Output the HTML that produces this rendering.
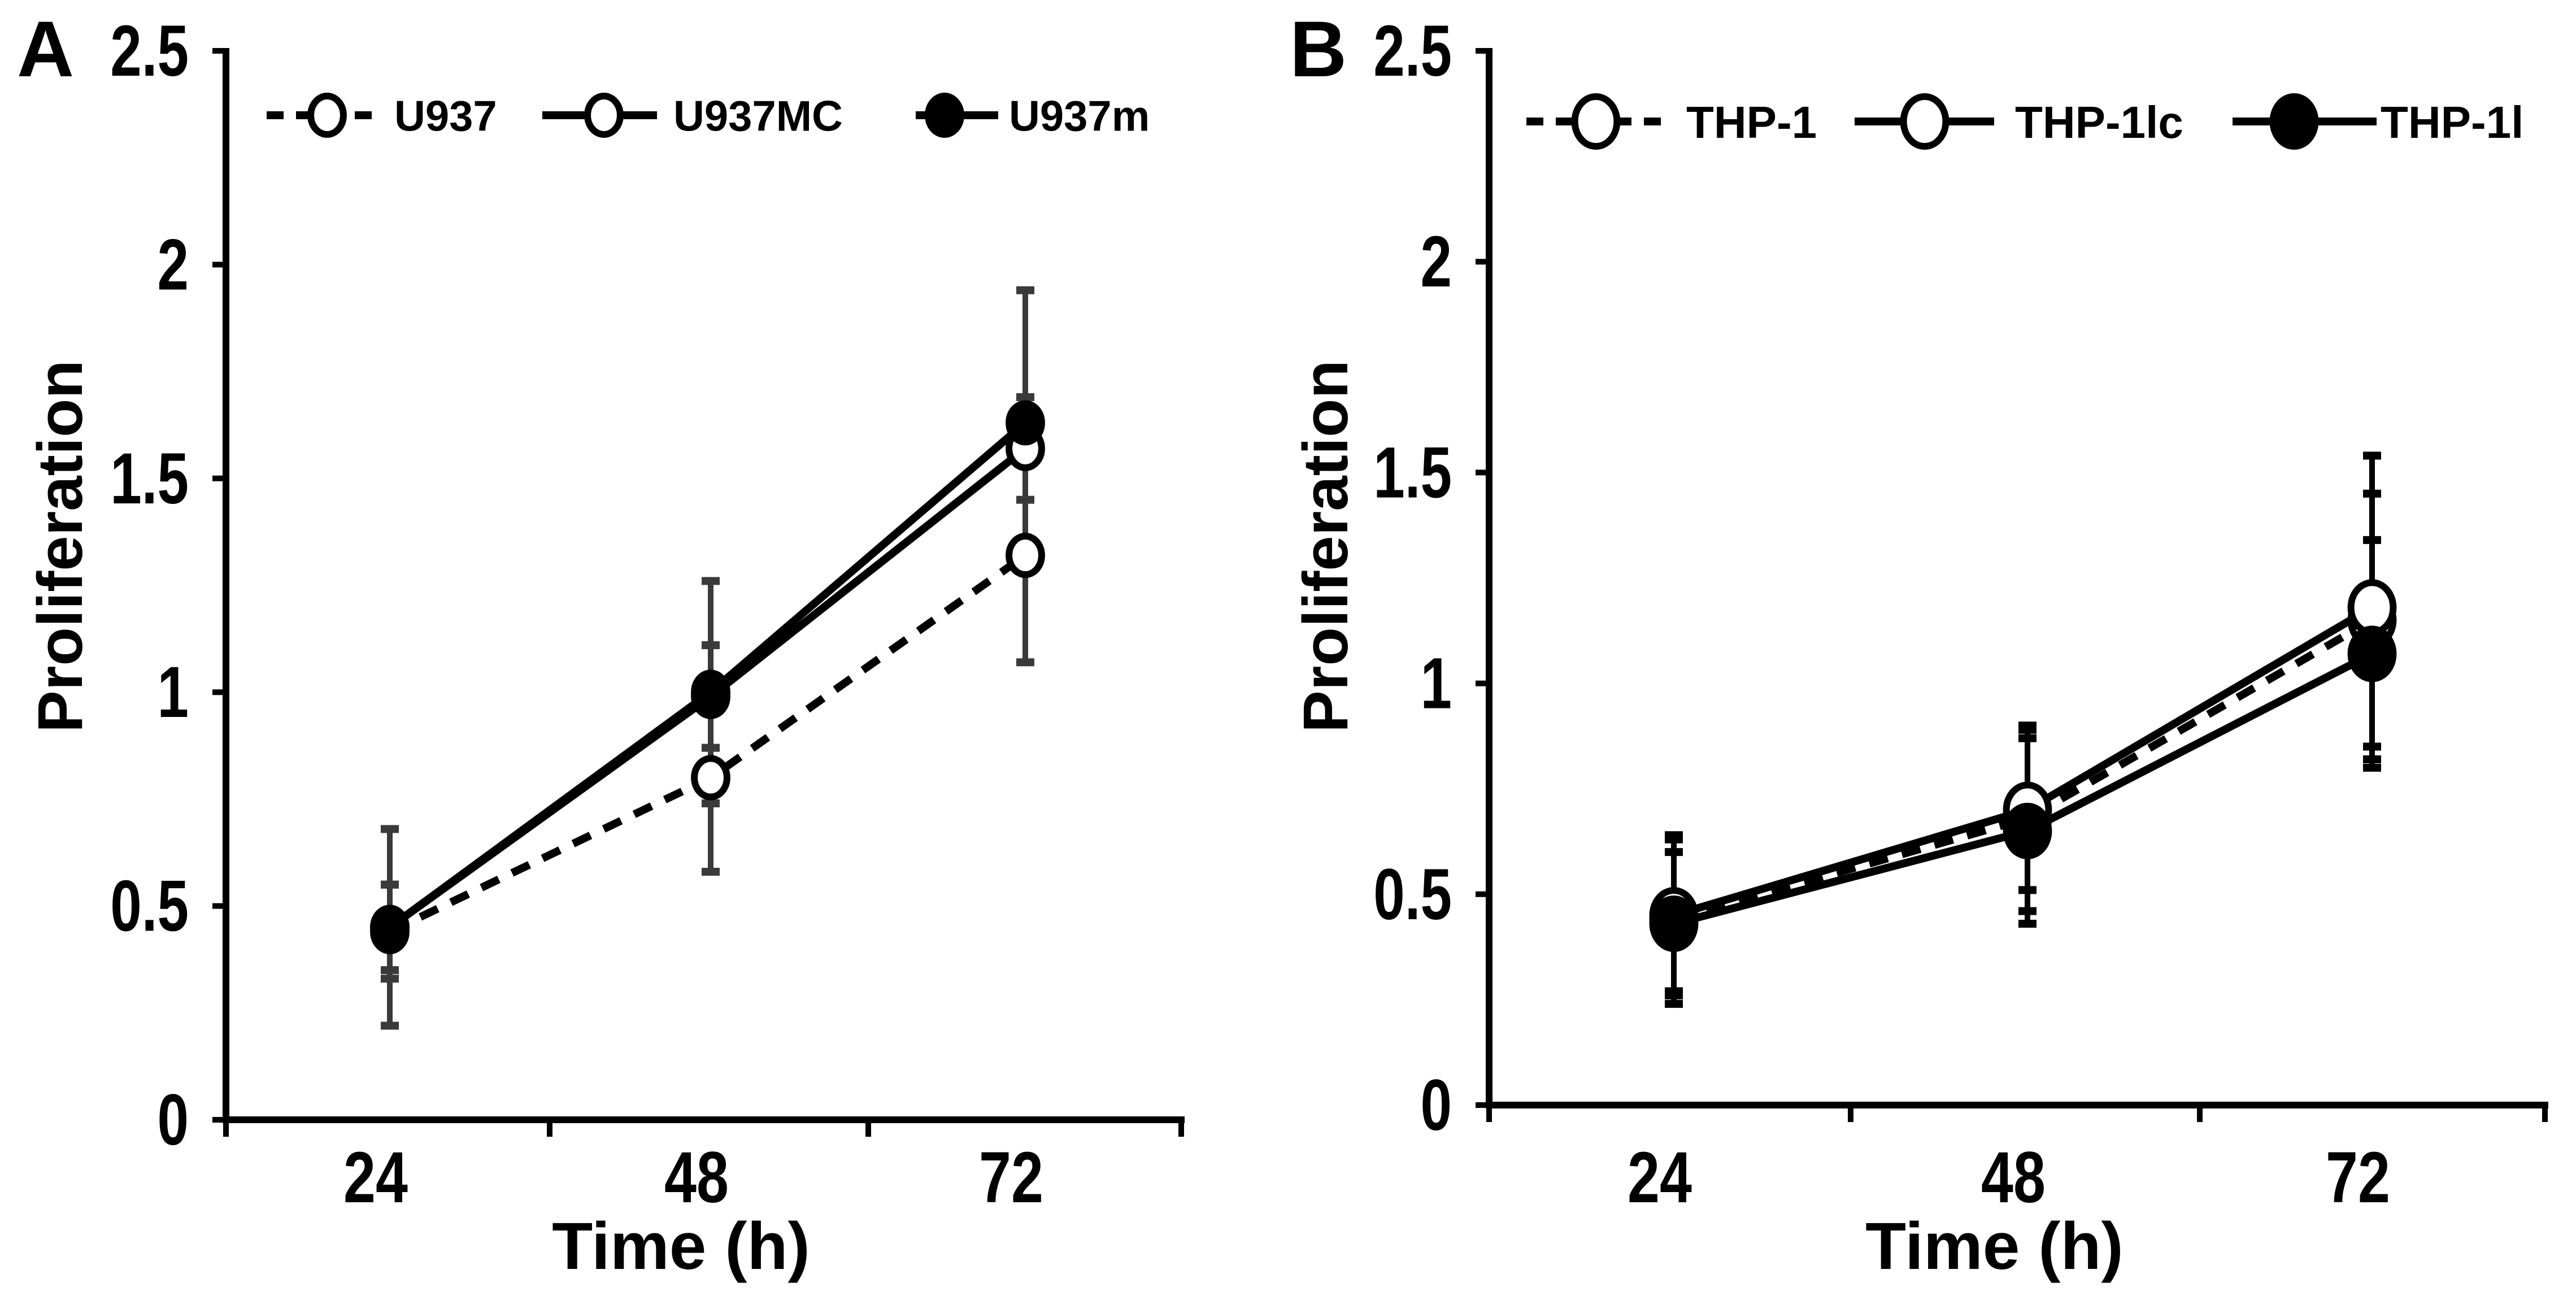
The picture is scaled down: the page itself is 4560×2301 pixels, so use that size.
<!DOCTYPE html>
<html><head><meta charset="utf-8"><style>
html,body{margin:0;padding:0;background:#fff}
svg{display:block}
text{font-family:"Liberation Sans Narrow","Liberation Sans",sans-serif;font-weight:bold;fill:#000}
.wide{font-family:"Liberation Sans",sans-serif}
</style></head><body>
<svg id="chart" width="4560" height="2301" viewBox="0 0 4560 2301" xmlns="http://www.w3.org/2000/svg"></svg>
<script>
const categories = ["24","48","72"];
const yTicks = [0,0.5,1,1.5,2,2.5];
const yTickLabels = ["0","0.5","1","1.5","2","2.5"];
const seriesNamesA = ["U937","U937MC","U937m"];
const u937 = [0.44,0.80,1.32];
const u937Err = [0.11,0.22,0.25];
const u937mc = [0.45,0.99,1.57];
const u937mcErr = [0.10,0.12,0.12];
const u937m = [0.45,1.00,1.63];
const u937mErr = [0.23,0.26,0.31];
const seriesNamesB = ["THP-1","THP-1lc","THP-1l"];
const thp1 = [0.44,0.68,1.15];
const thp1Err = [0.20,0.22,0.30];
const thp1lc = [0.45,0.70,1.18];
const thp1lcErr = [0.18,0.19,0.36];
const thp1l = [0.43,0.65,1.07];
const thp1lErr = [0.17,0.22,0.27];

const NS="http://www.w3.org/2000/svg";
const svg=document.getElementById('chart');
function mk(tag,attrs,parent){const e=document.createElementNS(NS,tag);for(const k in attrs)e.setAttribute(k,attrs[k]);(parent||svg).appendChild(e);return e;}

const panels=[
 {id:'a',letter:'A',x0:400,x1:2091,y0:1982,yTop:90,ticksX:[400,973,1537,2091],catX:[690,1258,1815],lab:[30,135],r:34,
  names:seriesNamesA,vals:[u937,u937mc,u937m],errs:[u937Err,u937mcErr,u937mErr],legY:204,legFont:76,
  leg:[[472,676,579,698],[960,1163,1069,1192],[1621,1767,1672,1786]],errColor:'#3a3a3a',titleX:105},
 {id:'b',letter:'B',x0:2636,x1:4505,y0:1956,yTop:90,ticksX:[2636,3276,3894,4505],catX:[2963,3589,4199],lab:[2283,135],r:44,
  names:seriesNamesB,vals:[thp1,thp1lc,thp1l],errs:[thp1Err,thp1lcErr,thp1lErr],legY:215,legFont:80,
  leg:[[2702,2949,2825,2985],[3283,3530,3407,3567],[3952,4207,4061,4214]],errColor:'#000',titleX:2345}
];
const styles=[{dash:'34,26',fill:'#fff'},{dash:'',fill:'#fff'},{dash:'',fill:'#000'}];

panels.forEach(p=>{
  const g=mk('g',{});
  
  
  const ys=v=>p.y0-(v/2.5)*(p.y0-p.yTop);
  const xs=i=>p.catX[i];
  const L=mk('text',{x:p.lab[0],y:p.lab[1],'font-size':140,'class':'wide'},g);L.textContent=p.letter;
  
  
  const ax=mk('g',{},g);
  
  
  mk('line',{x1:p.x0,y1:p.yTop-5,x2:p.x0,y2:p.y0+6,stroke:'#000','stroke-width':12},ax);
  mk('line',{x1:p.x0-6,y1:p.y0,x2:p.x1+6,y2:p.y0,stroke:'#000','stroke-width':12},ax);
  yTicks.forEach((v,i)=>{
    mk('line',{x1:p.x0-24,y1:ys(v),x2:p.x0,y2:ys(v),stroke:'#000','stroke-width':10},ax);
    const t=mk('text',{x:0,y:0,'font-size':128,'text-anchor':'end',transform:`translate(${p.x0-66},${ys(v)+44}) scale(0.78,1)`},ax);t.textContent=yTickLabels[i];
    
    
  });
  p.ticksX.forEach(x=>mk('line',{x1:x,y1:p.y0,x2:x,y2:p.y0+30,stroke:'#000','stroke-width':10},ax));
  categories.forEach((c,i)=>{
    const t=mk('text',{x:0,y:0,'font-size':128,'text-anchor':'middle',transform:`translate(${xs(i)-25},${2128}) scale(0.8,1)`},ax);t.textContent=c;
    
    
  });
  const yt=mk('text',{x:0,y:0,'font-size':112,'text-anchor':'middle','class':'wide',transform:`translate(${p.titleX+40},${967}) rotate(-90)`},g);yt.textContent='Proliferation';
  
  
  const xt=mk('text',{x:(p.x0+p.x1)/2-40,y:2246,'font-size':118,'text-anchor':'middle','class':'wide'},g);xt.textContent='Time (h)';
  
  
  p.vals.forEach((vals,s)=>{
    vals.forEach((v,i)=>{
      const e=p.errs[s][i],x=xs(i);
      const eb=mk('g',{stroke:p.errColor,'stroke-width':10},g);
      
      
      mk('line',{x1:x,y1:ys(v+e),x2:x,y2:ys(v-e)},eb);
      mk('line',{x1:x-16,y1:ys(v+e),x2:x+16,y2:ys(v+e),'stroke-width':14},eb);
      mk('line',{x1:x-16,y1:ys(v-e),x2:x+16,y2:ys(v-e),'stroke-width':14},eb);
    });
  });
  p.vals.forEach((vals,s)=>{
    const sg=mk('g',{},g);
    
    
    const pts=vals.map((v,i)=>xs(i)+','+ys(v)).join(' ');
    const pl=mk('polyline',{points:pts,fill:'none',stroke:'#000','stroke-width':14,'stroke-dasharray':styles[s].dash},sg);
    
    
    vals.forEach((v,i)=>{
      const c=mk('ellipse',{cx:xs(i),cy:ys(v),rx:p.r*0.85,ry:p.r,fill:styles[s].fill,stroke:'#000','stroke-width':12},sg);
      
      
    });
  });
  const lg=mk('g',{},g);
  
  
  p.leg.forEach((l,s)=>{
    const it=mk('g',{},lg);
    
    
    mk('line',{x1:l[0],y1:p.legY,x2:l[1],y2:p.legY,stroke:'#000','stroke-width':14,'stroke-dasharray':s===0?'30,22':''},it);
    mk('ellipse',{cx:l[2],cy:p.legY,rx:p.r*0.85,ry:p.r,fill:styles[s].fill,stroke:'#000','stroke-width':12},it);
    const t=mk('text',{x:l[3],y:p.legY+p.legFont*0.36,'font-size':p.legFont,'class':'wide'},it);t.textContent=p.names[s];
  });
});
</script>
</body></html>
